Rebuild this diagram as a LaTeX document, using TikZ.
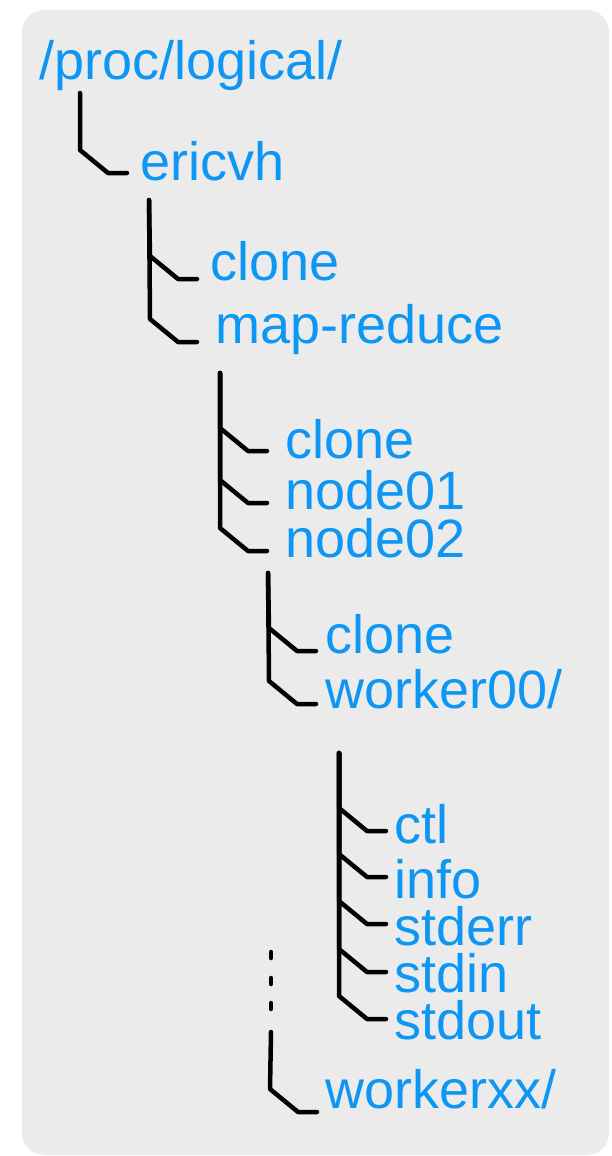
\documentclass[tikz,border=0pt]{standalone}
\usepackage{fontspec}
\setmainfont{Liberation Sans}
\usetikzlibrary{calc}
\definecolor{pathblue}{RGB}{14,150,245}
\definecolor{panel}{RGB}{235,235,235}
% branch from a trunk coordinate: straight down, a short slant, then a stub to the end point
\newcommand\treebranch[2]{\draw[tree] (#1) -- ($(#2)+(-47,-23)$) -- ($(#2)+(-19,0)$) -- (#2);}
\begin{document}
\begin{tikzpicture}[x=1pt,y=-1pt,
  entry/.style={anchor=base west, inner sep=0pt, text=pathblue,
                font=\fontsize{54}{60}\selectfont},
  tree/.style={line width=4.5pt, line cap=round, line join=round}]
\useasboundingbox (0,0) rectangle (611,1156);
\fill[panel, rounded corners=22pt] (22,10) rectangle (609,1155);

% directory entries
\node[entry] (root)    at (39,80)   {/proc/logical/};
\node[entry] (ericvh)  at (140,180) {ericvh};
\node[entry] (clA)     at (210,280) {clone};
\node[entry] (mapred)  at (215,343) {map-reduce};
\node[entry] (clB)     at (285,458) {clone};
\node[entry] (node01)  at (285,509) {node01};
\node[entry] (node02)  at (285,557) {node02};
\node[entry] (clC)     at (325,653) {clone};
\node[entry] (wk00)    at (325,708) {worker00/};
\node[entry] (ctl)     at (394,843) {ctl};
\node[entry] (info)    at (394,898) {info};
\node[entry] (stderr)  at (394,945) {stderr};
\node[entry] (stdin)   at (394,992) {stdin};
\node[entry] (stdout)  at (394,1039) {stdout};
\node[entry] (wkxx)    at (325,1108) {workerxx/};

% trunk tops
\coordinate (t-root)   at (80,93);
\coordinate (t-ericvh) at (149,200);
\coordinate (t-mapred) at (220,373);
\coordinate (t-node02) at (268,573);
\coordinate (t-wk00)   at (339,753);
\coordinate (t-wkxx)   at (271,1032);

% branch ends, just left of each entry
\coordinate (j-ericvh) at (127,173);
\coordinate (j-clA)    at (197,279);
\coordinate (j-mapred) at (197,342);
\coordinate (j-clB)    at (267,451);
\coordinate (j-node01) at (267,503);
\coordinate (j-node02) at (267,551);
\coordinate (j-clC)    at (316,651);
\coordinate (j-wk00)   at (316,704);
\coordinate (j-ctl)    at (386,831);
\coordinate (j-info)   at (386,877);
\coordinate (j-stderr) at (386,924);
\coordinate (j-stdin)  at (386,972);
\coordinate (j-stdout) at (386,1019);
\coordinate (j-wkxx)   at (317,1112);

\treebranch{t-root}{j-ericvh}
\treebranch{t-ericvh}{j-clA}
\treebranch{t-ericvh}{j-mapred}
\treebranch{t-mapred}{j-clB}
\treebranch{t-mapred}{j-node01}
\treebranch{t-mapred}{j-node02}
\treebranch{t-node02}{j-clC}
\treebranch{t-node02}{j-wk00}
\treebranch{t-wk00}{j-ctl}
\treebranch{t-wk00}{j-info}
\treebranch{t-wk00}{j-stderr}
\treebranch{t-wk00}{j-stdin}
\treebranch{t-wk00}{j-stdout}
\treebranch{t-wkxx}{j-wkxx}

% elided workers
\foreach \y in {952,978,1003}
  \draw[tree] (271,\y) -- (271,\y+6);
\end{tikzpicture}
\end{document}
